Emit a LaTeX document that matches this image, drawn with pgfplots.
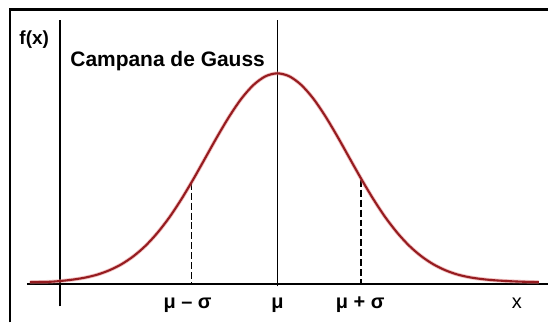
\documentclass[border=0pt]{standalone}
\usepackage{fontspec}
\setmainfont{Liberation Sans}
\usepackage{pgfplots}
\pgfplotsset{compat=1.18}
\definecolor{curvered}{RGB}{150,28,32}
\definecolor{halo}{RGB}{225,120,120}

\begin{document}
\begin{tikzpicture}
\begin{axis}[
  x=1pt, y=1pt,
  scale only axis,
  hide axis,
  xmin=0, xmax=549,
  ymin=0, ymax=323,
  clip=false,
]
% page extent
\path (axis cs:0,0) rectangle (axis cs:549,323);

% frame (top and left only)
\draw[line width=2.5pt] (axis cs:10,0) -- (axis cs:10,313.5) -- (axis cs:549,313.5);

% axes
\draw[line width=1.6pt] (axis cs:27,38.5) -- (axis cs:549,38.5);
\draw[line width=1.6pt] (axis cs:60,16) -- (axis cs:60,303);
\draw[line width=1.6pt] (axis cs:278,36) -- (axis cs:278,303);

% mu +/- sigma markers
\addplot[black, line width=1.5pt, dash pattern=on 7pt off 3pt] coordinates {(192,140) (192,38.5)};
\addplot[black, line width=1.5pt, dash pattern=on 7pt off 3pt] coordinates {(362,143) (362,38.5)};

% bell curve
\pgfplotsset{bell/.style={smooth}}
\addplot[halo, line width=3.8pt, bell, opacity=0.45] coordinates {
  (30,40.2) (48,40.5) (60,41.3) (74,42.9) (86,44.9) (98,47.9) (110,52.3)
  (122,58.3) (134,66.4) (146,76.8) (158,89.9) (170,105.5) (182,123.7)
  (194,143.8) (206,165.1) (218,186.5) (230,206.6) (242,224.2) (254,237.8)
  (266,246.5) (278,249.5) (290,246.5) (302,237.8) (314,224.2) (326,206.6)
  (338,186.5) (350,165.1) (362,143.8) (374,123.7) (386,105.5) (398,89.9)
  (410,76.8) (422,66.4) (434,58.3) (446,52.3) (458,48) (470,45.2)
  (482,43.4) (494,42.2) (510,41.2) (525,40.6) (540,40.2)
};
\addplot[curvered, line width=2.1pt, bell] coordinates {
  (30,40.2) (48,40.5) (60,41.3) (74,42.9) (86,44.9) (98,47.9) (110,52.3)
  (122,58.3) (134,66.4) (146,76.8) (158,89.9) (170,105.5) (182,123.7)
  (194,143.8) (206,165.1) (218,186.5) (230,206.6) (242,224.2) (254,237.8)
  (266,246.5) (278,249.5) (290,246.5) (302,237.8) (314,224.2) (326,206.6)
  (338,186.5) (350,165.1) (362,143.8) (374,123.7) (386,105.5) (398,89.9)
  (410,76.8) (422,66.4) (434,58.3) (446,52.3) (458,48) (470,45.2)
  (482,43.4) (494,42.2) (510,41.2) (525,40.6) (540,40.2)
};

% labels
\node[anchor=base west, font=\fontsize{19}{22}\selectfont\bfseries] at (axis cs:16,278) {f(x)};
\node[anchor=base west, font=\fontsize{21}{25}\selectfont\bfseries] at (axis cs:67,256) {Campana de Gauss};
\node[anchor=base, font=\fontsize{20}{24}\selectfont\bfseries] at (axis cs:188,14) {μ – σ};
\node[anchor=base, font=\fontsize{20}{24}\selectfont\bfseries] at (axis cs:278,14) {μ};
\node[anchor=base, font=\fontsize{20}{24}\selectfont\bfseries] at (axis cs:361,14) {μ + σ};
\node[anchor=base, font=\fontsize{20}{24}\selectfont] at (axis cs:518,14) {x};
\end{axis}
\end{tikzpicture}
\end{document}
